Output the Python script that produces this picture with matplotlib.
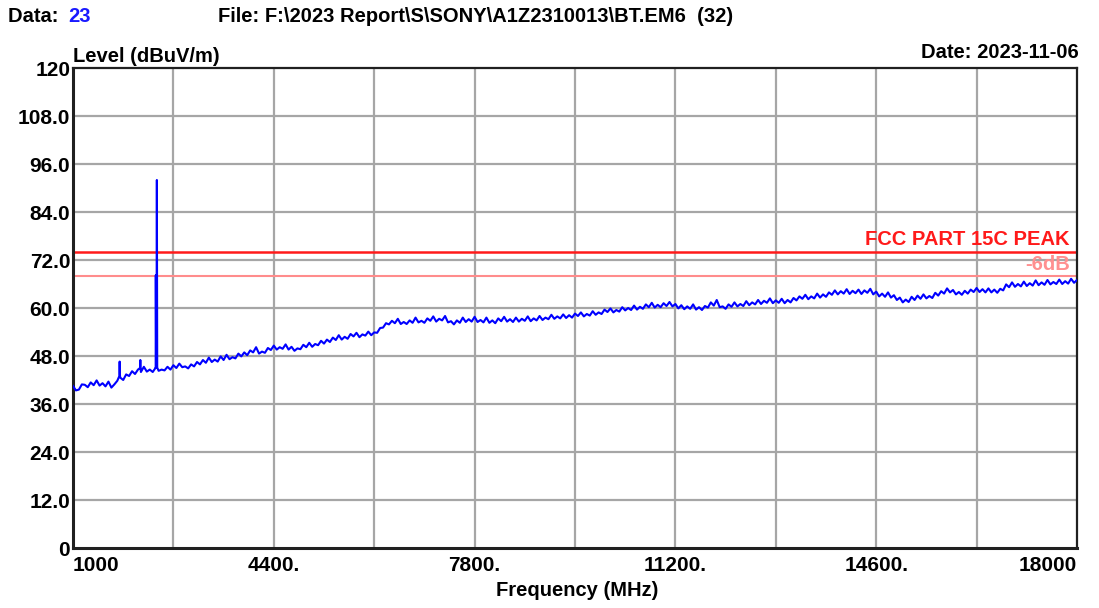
import numpy as np
import matplotlib
matplotlib.use("Agg")
import matplotlib.pyplot as plt

# ---- data ----
freq_start, freq_stop, freq_step = 1000, 18000, 100
# peak-ish readings at 1000, 1100, ... 18000 MHz
level = [
    40.5, 39.6, 40.8, 41.4, 41.9, 41.2, 41.6, 40.9, 42.6, 43.4,   # 1000-1900
    44.2, 44.6, 45.3, 44.6, 45.0, 44.6, 45.3, 45.7, 46.1, 45.4,   # 2000-2900
    45.9, 46.5, 47.0, 47.6, 47.1, 47.9, 48.3, 47.7, 48.6, 48.9,   # 3000-3900
    49.4, 50.2, 49.1, 50.0, 50.6, 50.2, 50.9, 50.3, 49.9, 50.8,   # 4000-4900
    51.3, 51.0, 51.8, 52.1, 52.6, 53.2, 52.8, 53.5, 53.8, 53.4,   # 5000-5900
    54.1, 53.9, 55.0, 56.2, 56.8, 57.3, 56.5, 56.9, 57.6, 56.8,   # 6000-6900
    57.4, 57.9, 57.3, 58.0, 56.7, 56.9, 57.6, 57.2, 57.8, 57.0,   # 7000-7900
    57.6, 56.9, 57.4, 57.8, 57.2, 57.6, 57.3, 57.9, 57.4, 58.0,   # 8000-8900
    57.6, 58.3, 57.9, 58.4, 58.2, 58.6, 58.9, 58.5, 59.2, 58.9,   # 9000-9900
    59.6, 59.9, 59.5, 60.2, 60.0, 60.6, 60.3, 60.9, 61.3, 60.8,   # 10000-10900
    61.2, 61.5, 61.0, 60.7, 60.4, 60.9, 60.2, 60.5, 61.4, 62.0,   # 11000-11900
    60.4, 60.9, 61.4, 61.0, 61.7, 61.4, 62.0, 61.8, 62.4, 61.9,   # 12000-12900
    62.3, 62.0, 62.5, 62.9, 63.3, 62.9, 63.6, 63.4, 63.9, 64.4,   # 13000-13900
    64.2, 64.7, 64.3, 64.6, 64.4, 64.8, 64.1, 63.6, 63.9, 63.2,   # 14000-14900
    62.6, 62.1, 62.8, 63.1, 63.4, 63.0, 63.8, 64.2, 64.9, 64.5,   # 15000-15900
    64.0, 64.3, 64.6, 65.0, 64.7, 64.9, 64.6, 64.8, 65.9, 66.4,   # 16000-16900
    66.0, 66.6, 66.2, 66.9, 66.4, 67.0, 66.5, 67.1, 66.7, 67.3,   # 17000-17900
    67.0,                                                         # 18000
]
# dip readings at 1050, 1150, ... 17950 MHz
level_mid = [
    39.4, 40.9, 40.2, 40.7, 40.6, 40.4, 40.1, 41.8, 42.0, 43.0,   # 1050-1950
    43.5, 44.0, 44.1, 44.0, 44.3, 44.4, 44.6, 45.0, 45.2, 44.9,   # 2050-2950
    45.4, 45.9, 46.3, 46.5, 46.6, 47.0, 47.2, 47.4, 47.9, 48.2,   # 3050-3950
    48.9, 48.6, 48.8, 49.5, 49.6, 49.8, 49.6, 49.3, 49.7, 50.2,   # 4050-4950
    50.3, 50.7, 51.1, 51.5, 52.0, 52.1, 52.3, 52.9, 52.7, 53.1,   # 5050-5950
    53.2, 53.8, 55.1, 55.9, 56.2, 56.0, 56.0, 56.3, 56.4, 56.3,   # 6050-6950
    56.8, 56.6, 56.9, 56.4, 55.9, 56.3, 56.5, 56.6, 56.5, 56.4,   # 7050-7950
    56.3, 56.2, 56.7, 56.6, 56.5, 56.6, 56.8, 56.7, 56.9, 57.0,   # 8050-8950
    57.2, 57.3, 57.4, 57.5, 57.6, 58.0, 57.9, 58.1, 58.3, 58.5,   # 9050-9950
    59.0, 58.9, 59.1, 59.4, 59.5, 59.6, 59.8, 60.2, 60.1, 60.2,   # 10050-10950
    60.5, 60.4, 59.9, 59.7, 59.8, 59.6, 59.5, 60.1, 60.6, 60.2,   # 11050-11950
    59.8, 60.3, 60.4, 60.5, 60.7, 60.9, 61.0, 61.3, 61.2, 61.3,   # 12050-12950
    61.2, 61.4, 61.9, 62.3, 62.2, 62.4, 62.6, 62.8, 63.3, 63.4,   # 13050-13950
    63.6, 63.5, 63.7, 63.5, 63.8, 63.4, 62.9, 62.8, 62.6, 62.0,   # 14050-14950
    61.4, 61.5, 62.0, 62.3, 62.4, 62.5, 63.1, 63.6, 63.9, 63.4,   # 15050-15950
    63.3, 63.6, 64.0, 64.0, 63.9, 63.9, 63.8, 64.4, 65.2, 65.3,   # 16050-16950
    65.4, 65.5, 65.6, 65.7, 65.8, 65.9, 66.0, 66.0, 66.1, 66.3,   # 17050-17950
]
spike_freq = [1785, 1790, 1795, 2135, 2140, 2145, 2396, 2402, 2408, 2414, 2420, 2426]
spike_level = [43.0, 46.6, 43.2, 45.0, 47.0, 44.8, 45.0, 68.2, 45.2, 45.0, 92.0, 45.1]

limit_level = 74.0
margin_level = 68.0
x_ticks = [1000, 4400, 7800, 11200, 14600, 18000]
x_tick_labels = ["1000", "4400.", "7800.", "11200.", "14600.", "18000"]
x_grid = [2700, 6100, 9500, 12900, 16300]
y_ticks = [0, 12, 24, 36, 48, 60, 72, 84, 96, 108, 120]
y_tick_labels = ["0", "12.0", "24.0", "36.0", "48.0", "60.0", "72.0", "84.0", "96.0", "108.0", "120"]

# ---- build trace ----
freq = np.arange(freq_start, freq_stop + 1, freq_step)
freq_mid = freq[:-1] + freq_step / 2
assert len(freq) == len(level) and len(freq_mid) == len(level_mid)
f_all = np.concatenate([freq, freq_mid, spike_freq])
l_all = np.concatenate([level, level_mid, spike_level])
order = np.argsort(f_all, kind="stable")
f_all, l_all = f_all[order], l_all[order]

plt.rcParams['font.family'] = ['Liberation Sans', 'DejaVu Sans']
plt.rcParams['font.weight'] = 'bold'

FS = 14.5
TFS = 15
W, H = 1099, 608
fig = plt.figure(figsize=(W / 100, H / 100), dpi=100)
ax = fig.add_axes([73 / W, (H - 548) / H, (1077 - 73) / W, (548 - 68) / H])

ax.set_xlim(freq_start, freq_stop)
ax.set_ylim(0, 120)

grid_c = "#a6a6a6"
for g in x_grid + x_ticks[1:-1]:
    ax.axvline(g, color=grid_c, lw=1.6, zorder=1)
for g in y_ticks[1:-1]:
    ax.axhline(g, color=grid_c, lw=1.6, zorder=1)

ax.axhline(limit_level, color="#ff1a1a", lw=1.8, zorder=2)
ax.axhline(margin_level, color="#ff8c8c", lw=1.5, zorder=2)

ax.plot(f_all, l_all, color="#0000ff", lw=1.5, zorder=3)

ax.text(0.993, limit_level + 0.7, "FCC PART 15C PEAK", transform=ax.get_yaxis_transform(),
        ha="right", va="bottom", color="#ff1a1a", fontsize=FS, fontweight="bold")
ax.text(0.993, margin_level + 0.5, "-6dB", transform=ax.get_yaxis_transform(),
        ha="right", va="bottom", color="#ff9090", fontsize=FS, fontweight="bold")

for s in ax.spines.values():
    s.set_color("#202020")
    s.set_linewidth(1.6)
ax.spines['left'].set_linewidth(2.2)
ax.spines['bottom'].set_linewidth(2.2)

ax.set_xticks(x_ticks)
ax.set_xticklabels(x_tick_labels, fontsize=TFS, fontweight="bold")
ax.set_yticks(y_ticks)
ax.set_yticklabels(y_tick_labels, fontsize=TFS, fontweight="bold")
ax.tick_params(axis="x", length=0, pad=6)
ax.tick_params(axis="y", length=0, pad=2)
labs = ax.get_xticklabels()
labs[0].set_horizontalalignment("left")
labs[-1].set_horizontalalignment("right")

fig.text(8 / W, 1 - 17 / H, "Data: ", ha="left", va="center", fontsize=FS, fontweight="bold")
fig.text(68 / W, 1 - 17 / H, "23", ha="left", va="center", fontsize=FS, fontweight="bold", color="#1a1aff")
fig.text(218 / W, 1 - 17 / H, "File: F:\\2023 Report\\S\\SONY\\A1Z2310013\\BT.EM6  (32)",
         ha="left", va="center", fontsize=FS, fontweight="bold")
fig.text(73 / W, 1 - 56 / H, "Level (dBuV/m)", ha="left", va="center", fontsize=FS, fontweight="bold")
fig.text(1079 / W, 1 - 53 / H, "Date: 2023-11-06", ha="right", va="center", fontsize=FS, fontweight="bold")
fig.text(577 / W, 1 - 590 / H, "Frequency (MHz)", ha="center", va="center", fontsize=FS, fontweight="bold")

fig.savefig("out.png", dpi=100, facecolor="white")
